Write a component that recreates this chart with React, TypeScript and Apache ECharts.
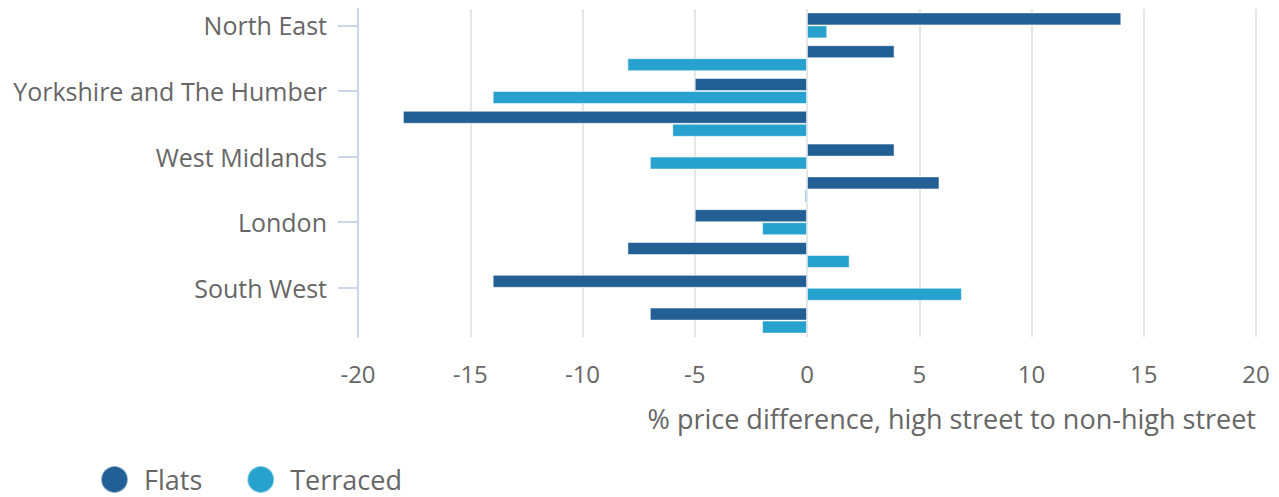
import React, { useEffect, useRef } from "react";
import * as echarts from "echarts";

const regions = [
  "North East",
  "North West",
  "Yorkshire and The Humber",
  "East Midlands",
  "West Midlands",
  "East of England",
  "London",
  "South East",
  "South West",
  "Wales",
];
const flats = [14, 3.9, -5, -18, 3.9, 5.9, -5, -8, -14, -7];
const terraced = [0.9, -8, -14, -6, -7, -0.1, -2, 1.9, 6.9, -2];
const xTicks = { min: -20, max: 20, interval: 5 };
const axisTitle = "% price difference, high street to non-high street";

const FONT = "'Open Sans', 'Noto Sans', sans-serif";
const TEXT = "#666666";

export default function App() {
  const ref = useRef<HTMLDivElement>(null);
  useEffect(() => {
    if (!ref.current) return;
    const chart = echarts.init(ref.current, undefined, { renderer: "svg" });
    chart.setOption({
      animation: false,
      textStyle: { fontFamily: FONT },
      grid: { left: 358, right: 23, top: 9, bottom: 160, containLabel: false },
      legend: {
        left: 100,
        top: 465,
        padding: 0,
        icon: "circle",
        itemWidth: 27,
        itemHeight: 27,
        itemGap: 44,
        textStyle: { fontSize: 27, lineHeight: 28, color: TEXT, fontFamily: FONT, padding: [0, 0, 0, 11] },
        data: ["Flats", "Terraced"],
      },
      xAxis: {
        type: "value",
        min: xTicks.min,
        max: xTicks.max,
        interval: xTicks.interval,
        axisLine: { show: false },
        axisTick: { show: false },
        splitLine: { show: true, lineStyle: { color: "#e6e6e6", width: 2 } },
        axisLabel: { fontSize: 24, color: TEXT, margin: 24, fontFamily: FONT },
        name: axisTitle,
        nameLocation: "end",
        nameGap: 0,
        nameTextStyle: {
          fontSize: 27,
          color: TEXT,
          fontFamily: FONT,
          align: "right",
          verticalAlign: "top",
          padding: [68, 0, 0, 0],
        },
      },
      yAxis: {
        type: "category",
        data: regions,
        inverse: true,
        axisLine: { show: true, onZero: false, lineStyle: { color: "#ccd6eb", width: 2 } },
        axisTick: {
          show: true,
          alignWithLabel: true,
          interval: 1,
          length: 20,
          lineStyle: { color: "#ccd6eb", width: 2 },
        },
        axisLabel: { interval: 1, fontSize: 25, color: TEXT, margin: 31, fontFamily: FONT },
        splitLine: { show: false },
      },
      series: [
        {
          name: "Flats",
          type: "bar",
          data: flats,
          barWidth: 13,
          barGap: "0%",
          itemStyle: { color: "#215f94", borderColor: "rgba(255,255,255,0.5)", borderWidth: 1 },
        },
        {
          name: "Terraced",
          type: "bar",
          data: terraced,
          barWidth: 13,
          barGap: "0%",
          itemStyle: { color: "#27a1cd", borderColor: "rgba(255,255,255,0.5)", borderWidth: 1 },
        },
      ],
    });
    return () => chart.dispose();
  }, []);
  return <div ref={ref} style={{ width: 1279, height: 497, position: "absolute", left: 0, top: 0 }} />;
}
